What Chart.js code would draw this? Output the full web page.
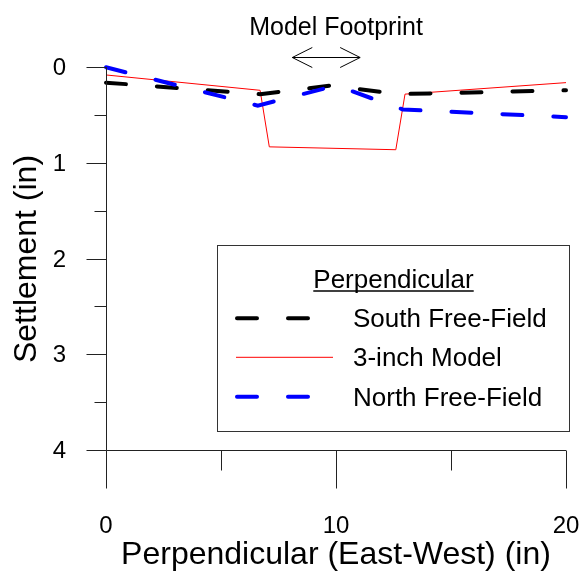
<!DOCTYPE html>
<html>
<head>
<meta charset="utf-8">
<script src="https://cdn.jsdelivr.net/npm/chart.js@4.4.0/dist/chart.umd.min.js"></script>
<style>
  html, body { margin: 0; padding: 0; background: #fff; }
  #wrap { width: 584px; height: 576px; }
</style>
</head>
<body>
<div id="wrap"><canvas id="c" width="584" height="576"></canvas></div>
<script>
// Settlement profiles across the model (perpendicular, east-west direction)
const southX = [0, 6.7, 9.8, 12.7, 20];
const southY = [0.16, 0.28, 0.19, 0.28, 0.24];

const modelX = [0, 6.7, 7.1, 12.6, 13.0, 20];
const modelY = [0.08, 0.24, 0.83, 0.86, 0.28, 0.16];

const northX = [0, 6.6, 10, 12.9, 20];
const northY = [0, 0.40, 0.19, 0.44, 0.52];

const seriesNames = ['South Free-Field', '3-inch Model', 'North Free-Field'];

// Labelled ticks (minor ticks fall half-way between)
const xTickLabels = [0, 10, 20];
const yTickLabels = [0, 1, 2, 3, 4];

// Footprint marker: extent along x and its label
const footprintLabel = 'Model Footprint';
const footprintFrom = 8.1;
const footprintTo = 11.05;
const legendTitle = 'Perpendicular';

const FONT = "'Liberation Sans', Arial, Helvetica, sans-serif";
const AXIS_COLOR = '#222';

function points(xs, ys) {
  return xs.map((x, i) => ({ x: x, y: ys[i] }));
}

// Tick marks and labels, axis lines, footprint arrow and the boxed legend
const decorations = {
  id: 'decorations',
  afterDraw(chart) {
    const ctx = chart.ctx;
    const xs = chart.scales.x;
    const ys = chart.scales.y;
    const area = chart.chartArea;
    const crisp = v => Math.round(v) - 0.5;

    ctx.save();
    ctx.strokeStyle = AXIS_COLOR;
    ctx.lineWidth = 1;

    // axis lines
    const ax = crisp(area.left + 0.5);
    const ay = crisp(area.bottom + 0.5);
    ctx.beginPath();
    ctx.moveTo(ax, area.top);
    ctx.lineTo(ax, ay);
    ctx.moveTo(ax, ay);
    ctx.lineTo(area.right, ay);
    ctx.stroke();

    // x ticks hang below the axis
    ctx.beginPath();
    xs.ticks.forEach(t => {
      const px = crisp(xs.getPixelForValue(t.value) + 0.5);
      const len = xTickLabels.includes(t.value) ? 38 : 20;
      ctx.moveTo(px, ay);
      ctx.lineTo(px, ay + len);
    });
    // y ticks point left of the axis
    ys.ticks.forEach(t => {
      const py = crisp(ys.getPixelForValue(t.value) + 0.5);
      const len = yTickLabels.includes(t.value) ? 20 : 12;
      ctx.moveTo(ax, py);
      ctx.lineTo(ax - len, py);
    });
    ctx.stroke();

    // tick labels
    ctx.fillStyle = '#000';
    ctx.font = '24px ' + FONT;
    ctx.textAlign = 'center';
    ctx.textBaseline = 'alphabetic';
    xs.ticks.forEach(t => {
      if (xTickLabels.includes(t.value)) {
        ctx.fillText(String(t.value), xs.getPixelForValue(t.value), 533);
      }
    });
    ctx.textAlign = 'right';
    ctx.textBaseline = 'middle';
    ys.ticks.forEach(t => {
      if (yTickLabels.includes(t.value)) {
        ctx.fillText(String(t.value), 66, ys.getPixelForValue(t.value) + 1);
      }
    });

    // footprint label and double-headed arrow
    const labelX = xs.getPixelForValue(10);
    ctx.font = '25px ' + FONT;
    ctx.textAlign = 'center';
    ctx.textBaseline = 'alphabetic';
    ctx.fillText(footprintLabel, labelX, 35);

    const a1 = xs.getPixelForValue(footprintFrom);
    const a2 = xs.getPixelForValue(footprintTo);
    const arY = Math.round(ys.getPixelForValue(-0.107)) + 0.5;
    ctx.strokeStyle = '#000';
    ctx.beginPath();
    ctx.moveTo(a1, arY); ctx.lineTo(a2, arY);
    ctx.moveTo(a1 + 20, arY - 10); ctx.lineTo(a1, arY); ctx.lineTo(a1 + 20, arY + 10);
    ctx.moveTo(a2 - 20, arY - 10); ctx.lineTo(a2, arY); ctx.lineTo(a2 - 20, arY + 10);
    ctx.stroke();

    // legend box
    ctx.strokeStyle = '#333';
    ctx.lineWidth = 1;
    ctx.strokeRect(217.5, 245.5, 352, 186);

    ctx.font = '26px ' + FONT;
    ctx.fillStyle = '#000';
    ctx.textAlign = 'center';
    ctx.fillText(legendTitle, 393.5, 288.3);
    const tw = ctx.measureText(legendTitle).width;
    ctx.beginPath();
    ctx.moveTo(393.5 - tw / 2, 291);
    ctx.lineTo(393.5 + tw / 2, 291);
    ctx.strokeStyle = '#000';
    ctx.lineWidth = 1.3;
    ctx.stroke();

    const rowsLine = [318.3, 357.3, 396.7];
    const rowsText = [326.7, 366, 405.7];
    ctx.textAlign = 'left';
    chart.data.datasets.forEach((ds, i) => {
      const dashed = ds.borderDash.length > 0;
      ctx.save();
      ctx.strokeStyle = ds.borderColor;
      ctx.lineWidth = ds.borderWidth;
      ctx.lineCap = dashed ? 'round' : 'butt';
      ctx.setLineDash(ds.borderDash);
      ctx.beginPath();
      ctx.moveTo(dashed ? 237 : 236, rowsLine[i]);
      ctx.lineTo(dashed ? 311 : 333, rowsLine[i]);
      ctx.stroke();
      ctx.restore();
      ctx.fillStyle = '#000';
      ctx.fillText(ds.label, 353, rowsText[i]);
    });
    ctx.restore();
  }
};

new Chart(document.getElementById('c'), {
  type: 'line',
  data: {
    datasets: [
      {
        label: seriesNames[0],
        data: points(southX, southY),
        borderColor: '#000000',
        borderWidth: 4,
        borderDash: [20, 31],
        borderCapStyle: 'round',
        order: 1
      },
      {
        label: seriesNames[1],
        data: points(modelX, modelY),
        borderColor: '#ff0000',
        borderWidth: 1,
        borderDash: [],
        order: 2
      },
      {
        label: seriesNames[2],
        data: points(northX, northY),
        borderColor: '#0000ff',
        borderWidth: 4,
        borderDash: [20, 31],
        borderCapStyle: 'round',
        order: 0
      }
    ]
  },
  options: {
    responsive: false,
    animation: false,
    events: [],
    layout: { padding: { left: 0, right: 18, top: 67.3, bottom: 0 } },
    elements: {
      point: { radius: 0 },
      line: { tension: 0, fill: false }
    },
    datasets: { line: { clip: false } },
    plugins: {
      legend: { display: false },
      tooltip: { enabled: false }
    },
    scales: {
      x: {
        type: 'linear',
        position: 'bottom',
        min: 0,
        max: 20,
        afterFit(s) { s.height = 125.3; },
        grid: { display: false, drawTicks: false },
        border: { display: false },
        ticks: { stepSize: 5, display: false, padding: 0 },
        title: {
          display: true,
          text: 'Perpendicular (East-West) (in)',
          color: '#000',
          font: { family: FONT, size: 32 },
          padding: { top: 0, bottom: 2 }
        }
      },
      y: {
        type: 'linear',
        position: 'left',
        min: 0,
        max: 4,
        reverse: true,
        afterFit(s) { s.width = 106; },
        grid: { display: false, drawTicks: false },
        border: { display: false },
        ticks: { stepSize: 0.5, display: false, padding: 0 },
        title: {
          display: true,
          text: 'Settlement (in)',
          color: '#000',
          font: { family: FONT, size: 32 },
          padding: { top: 8, bottom: 0 }
        }
      }
    }
  },
  plugins: [decorations]
});
</script>
</body>
</html>
